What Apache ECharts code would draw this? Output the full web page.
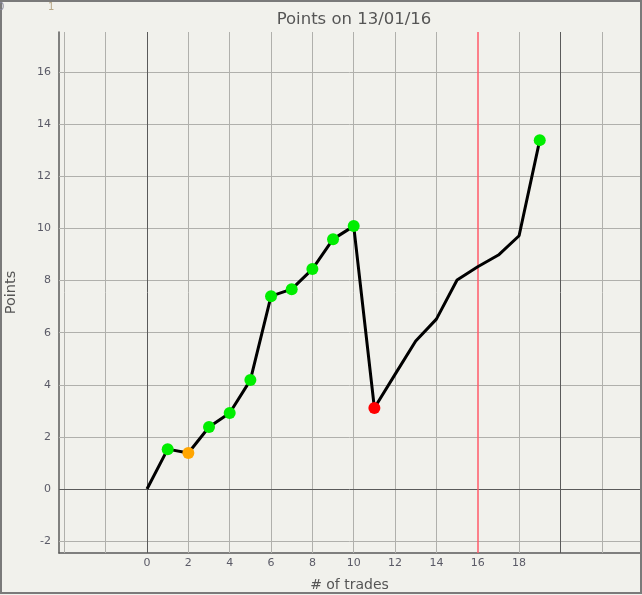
<!DOCTYPE html>
<html><head><meta charset="utf-8">
<script src="https://cdn.jsdelivr.net/npm/echarts@6/dist/echarts.min.js"></script>
<style>html,body{margin:0;padding:0;background:#f1f1ec}#c{width:642px;height:595px}</style>
</head><body><div id="c"></div>
<script>
const trades = [0,1,2,3,4,5,6,7,8,9,10,11,12,13,14,15,16,17,18,19];
const points = [0,1.53,1.38,2.38,2.92,4.18,7.40,7.67,8.44,9.59,10.09,3.11,4.40,5.68,6.52,8.02,8.53,8.98,9.72,13.39];
const markerKinds = ['none','win','even','win','win','win','win','win','win','win','win','loss','none','none','none','none','none','none','none','win'];
const xTickLabels = [0,2,4,6,8,10,12,14,16,18];
const yTickLabels = [-2,0,2,4,6,8,10,12,14,16];
const xGridLines = [-4,-2,2,4,6,8,10,12,14,18,22];
const xDarkLines = [0,20];
const xRedLines = [16];
const yGridLines = [-2,2,4,6,8,10,12,14,16];
const yDarkLines = [0];

const kindColor = {win:'#00ee00', even:'#ffa500', loss:'#ff0000'};
const grey = '#b0b0ac', dark = '#5a5a5a';

const lineData = trades.map((t,i)=>{
  const k = markerKinds[i];
  const d = {value:[t, points[i]]};
  if (k === 'none') d.symbol = 'none';
  else d.itemStyle = {color: kindColor[k]};
  return d;
});

const ml = [];
xGridLines.forEach(v=>ml.push({xAxis:v, lineStyle:{color:grey,width:1,type:'solid'}}));
yGridLines.forEach(v=>ml.push({yAxis:v, lineStyle:{color:grey,width:1,type:'solid'}}));
xDarkLines.forEach(v=>ml.push({xAxis:v, lineStyle:{color:dark,width:1,type:'solid'}}));
yDarkLines.forEach(v=>ml.push({yAxis:v, lineStyle:{color:dark,width:1,type:'solid'}}));
xRedLines.forEach(v=>ml.push({xAxis:v, lineStyle:{color:'#ff5a6a',width:1.5,type:'solid'}}));

const chart = echarts.init(document.getElementById('c'), null, {renderer:'canvas'});
const font = 'DejaVu Sans';
chart.setOption({
  backgroundColor:'#f1f1ec',
  animation:false,
  textStyle:{fontFamily:font},
  title:{text:'Points on 13/01/16', left:349, top:6, textAlign:'center',
    textStyle:{fontFamily:font, fontSize:16.5, fontWeight:'normal', color:'#555'}},
  grid:{left:59, right:2, top:32, bottom:42, outerBoundsMode:'none', containLabel:false},
  xAxis:{type:'value', min:-4.258, max:23.85,
    name:'# of trades', nameLocation:'middle', nameGap:25,
    nameTextStyle:{fontFamily:font, fontSize:14, color:'#555'},
    axisLine:{show:true, onZero:false, lineStyle:{color:dark,width:1.5}},
    axisTick:{show:false}, splitLine:{show:false},
    axisLabel:{customValues:xTickLabels, margin:5, fontSize:11, color:'#5a5a66', fontFamily:font}},
  yAxis:{type:'value', min:-2.456, max:17.54,
    name:'Points', nameLocation:'middle', nameGap:40,
    nameTextStyle:{fontFamily:font, fontSize:14.5, color:'#555'},
    axisLine:{show:true, onZero:false, lineStyle:{color:dark,width:1.5}},
    axisTick:{show:false}, splitLine:{show:false},
    axisLabel:{customValues:yTickLabels, margin:8, fontSize:11, color:'#5a5a66', fontFamily:font}},
  graphic:[
    {type:'rect', shape:{x:1,y:1,width:640,height:592}, style:{fill:'none', stroke:'#7a7a7a', lineWidth:2}, silent:true, z:100},
    {type:'text', x:-2, y:2, style:{text:'0', fontSize:10, fill:'#8a8aa0', fontFamily:font}, z:101},
    {type:'text', x:48, y:2, style:{text:'1', fontSize:10, fill:'#b8a888', fontFamily:font}, z:101}
  ],
  series:[
    {type:'line', z:1, data:trades.map((t,i)=>[t,points[i]]), showSymbol:false,
     lineStyle:{opacity:0}, silent:true,
     markLine:{silent:true, symbol:['none','none'], label:{show:false}, data:ml, animation:false}},
    {type:'line', z:5, data:lineData, symbol:'circle', symbolSize:12, showAllSymbol:true,
     lineStyle:{color:'#000', width:3}, itemStyle:{borderWidth:0}}
  ]
});
</script></body></html>
